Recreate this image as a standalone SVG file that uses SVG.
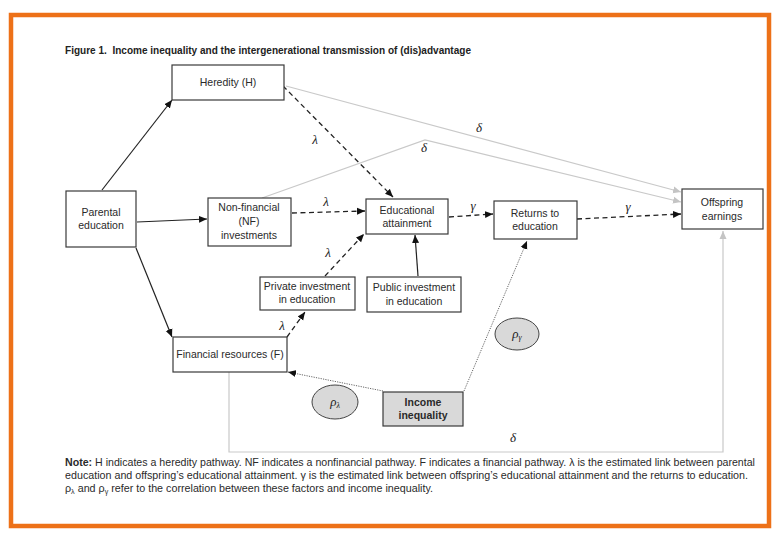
<svg xmlns="http://www.w3.org/2000/svg" width="780" height="540" viewBox="0 0 780 540">
  <style>
    .box { fill: #ffffff; stroke: #3a3a3a; stroke-width: 1.2; }
    .lbl { font-family: "Liberation Sans", Arial, sans-serif; font-size: 10.5px; fill: #2a2a2a; text-anchor: middle; }
    .grk { font-family: "Liberation Serif", "Times New Roman", serif; font-style: italic; font-size: 13px; fill: #222222; text-anchor: middle; }
    .solid { fill: none; stroke: #222222; stroke-width: 1.2; }
    .dash { fill: none; stroke: #222222; stroke-width: 1.3; stroke-dasharray: 5 3.5; }
    .dot { fill: none; stroke: #555555; stroke-width: 0.9; stroke-dasharray: 1.2 1.2; }
    .gray { fill: none; stroke: #c9c9c9; stroke-width: 1.2; }
    .note { font-family: "Liberation Sans", Arial, sans-serif; font-size: 10.5px; fill: #2a2a2a; }
    .ell { fill: #d9d9d9; stroke: #444444; stroke-width: 1; }
  </style>
  <defs>
    <marker id="ab" markerUnits="userSpaceOnUse" markerWidth="9" markerHeight="8" refX="8" refY="4" orient="auto">
      <path d="M0,0.5 L8,4 L0,7.5 Z" fill="#111111"/>
    </marker>
    <marker id="ag" markerUnits="userSpaceOnUse" markerWidth="9" markerHeight="8" refX="8" refY="4" orient="auto">
      <path d="M0,0.5 L8,4 L0,7.5 Z" fill="#c4c4c4"/>
    </marker>
  </defs>
  <rect x="0" y="0" width="780" height="540" fill="#ffffff"/>
  <rect x="11" y="15" width="758" height="511" fill="none" stroke="#ED7118" stroke-width="4.5"/>

  <text x="65" y="54" font-family="Liberation Sans, Arial, sans-serif" font-weight="bold" font-size="10" fill="#222222" textLength="406" lengthAdjust="spacingAndGlyphs" xml:space="preserve">Figure 1.  Income inequality and the intergenerational transmission of (dis)advantage</text>

  <g id="connectors">
    <path class="gray" d="M286,86 L681,192" marker-end="url(#ag)"/>
    <path class="gray" d="M262,198 L425,140 L681,202" marker-end="url(#ag)"/>
    <path class="gray" d="M229,372 L229,452 L723,452 L723,231" marker-end="url(#ag)"/>
    <path class="solid" d="M102,190 L172,100" marker-end="url(#ab)"/>
    <path class="solid" d="M137,222 L207,219" marker-end="url(#ab)"/>
    <path class="solid" d="M136,248 L172,337" marker-end="url(#ab)"/>
    <path class="solid" d="M418,276 L415,235" marker-end="url(#ab)"/>
    <path class="dash" d="M283,86 L393,197" marker-end="url(#ab)"/>
    <path class="dash" d="M292,213 L365,211" marker-end="url(#ab)"/>
    <path class="dash" d="M325,276 L364,234" marker-end="url(#ab)"/>
    <path class="dash" d="M287,337 L305,312" marker-end="url(#ab)"/>
    <path class="dash" d="M449,217 L493,214" marker-end="url(#ab)"/>
    <path class="dash" d="M577,219 L681,214" marker-end="url(#ab)"/>
    <path class="dot" d="M383,391 L288,372" marker-end="url(#ab)"/>
    <path class="dot" d="M464,391 L527,241" marker-end="url(#ab)"/>
    <text class="grk" x="315" y="144">λ</text>
    <text class="grk" x="326" y="206">λ</text>
    <text class="grk" x="328" y="257">λ</text>
    <text class="grk" x="282" y="330">λ</text>
    <text class="grk" x="473" y="210">γ</text>
    <text class="grk" x="628" y="211">γ</text>
    <text class="grk" x="479" y="132">δ</text>
    <text class="grk" x="424" y="152">δ</text>
    <text class="grk" x="513" y="442">δ</text>
  </g>

  <g id="heredity">
    <rect class="box" x="172" y="65" width="112" height="35"/>
    <text class="lbl" x="228" y="86">Heredity (H)</text>
  </g>
  <g id="parental">
    <rect class="box" x="66" y="191" width="70" height="56"/>
    <text class="lbl" x="101" y="216">Parental</text>
    <text class="lbl" x="101" y="229">education</text>
  </g>
  <g id="nf">
    <rect class="box" x="208" y="198" width="83" height="48"/>
    <text class="lbl" x="249" y="211">Non-financial</text>
    <text class="lbl" x="249" y="225">(NF)</text>
    <text class="lbl" x="249" y="239">investments</text>
  </g>
  <g id="educational">
    <rect class="box" x="366" y="199" width="82" height="35"/>
    <text class="lbl" x="407" y="214">Educational</text>
    <text class="lbl" x="407" y="227">attainment</text>
  </g>
  <g id="returns">
    <rect class="box" x="494" y="201" width="83" height="38"/>
    <text class="lbl" x="535" y="217">Returns to</text>
    <text class="lbl" x="535" y="230">education</text>
  </g>
  <g id="offspring">
    <rect class="box" x="682" y="189" width="81" height="40"/>
    <text class="lbl" x="722" y="206">Offspring</text>
    <text class="lbl" x="722" y="220">earnings</text>
  </g>
  <g id="private">
    <rect class="box" x="260" y="277" width="95" height="33"/>
    <text class="lbl" x="307" y="290">Private investment</text>
    <text class="lbl" x="307" y="303">in education</text>
  </g>
  <g id="public">
    <rect class="box" x="367" y="277" width="94" height="35"/>
    <text class="lbl" x="414" y="291">Public investment</text>
    <text class="lbl" x="414" y="305">in education</text>
  </g>
  <g id="financial">
    <rect class="box" x="173" y="337" width="114" height="35"/>
    <text class="lbl" x="230" y="358">Financial resources (F)</text>
  </g>
  <g id="income">
    <rect x="383" y="392" width="80" height="34" fill="#d9d9d9" stroke="#3a3a3a" stroke-width="1.2"/>
    <text class="lbl" x="423" y="406" font-weight="bold" font-size="10">Income</text>
    <text class="lbl" x="423" y="419" font-weight="bold" font-size="10">inequality</text>
  </g>
  <g id="rho-gamma">
    <ellipse class="ell" cx="517" cy="334" rx="22" ry="16"/>
    <text class="grk" x="517" y="338" font-size="13">ρ<tspan font-size="8" dy="2">γ</tspan></text>
  </g>
  <g id="rho-lambda">
    <ellipse class="ell" cx="335" cy="402" rx="23" ry="17"/>
    <text class="grk" x="335" y="406" font-size="13">ρ<tspan font-size="8" dy="2">λ</tspan></text>
  </g>

  <g id="note">
    <text class="note" x="65" y="466" textLength="690" lengthAdjust="spacingAndGlyphs"><tspan font-weight="bold">Note:</tspan> H indicates a heredity pathway. NF indicates a nonfinancial pathway. F indicates a financial pathway. λ is the estimated link between parental</text>
    <text class="note" x="65" y="479" textLength="683" lengthAdjust="spacingAndGlyphs">education and offspring’s educational attainment. γ is the estimated link between offspring’s educational attainment and the returns to education.</text>
    <text class="note" x="65" y="492" textLength="368" lengthAdjust="spacingAndGlyphs">ρ<tspan font-size="7" dy="2">λ</tspan><tspan dy="-2"> and ρ</tspan><tspan font-size="7" dy="2">γ</tspan><tspan dy="-2"> refer to the correlation between these factors and income inequality.</tspan></text>
  </g>
</svg>
